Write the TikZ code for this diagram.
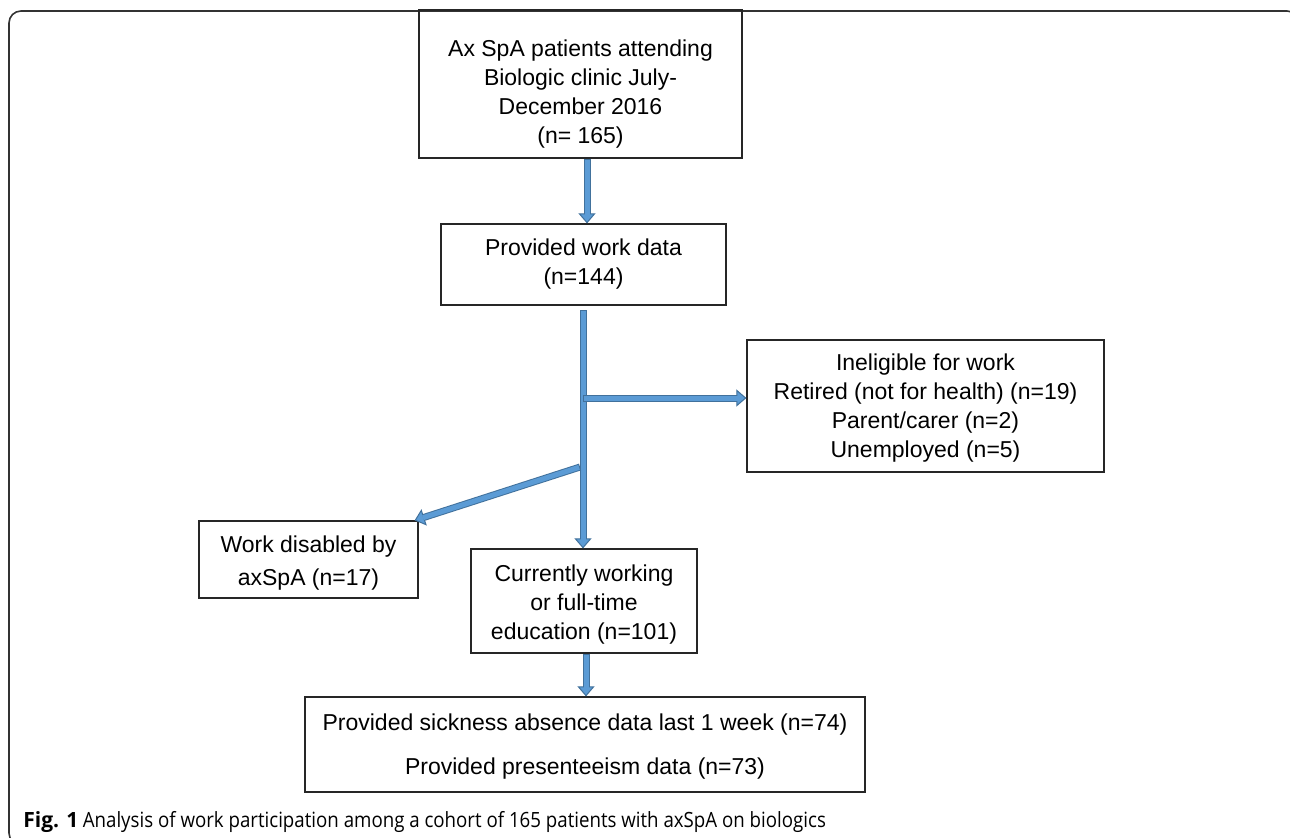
\documentclass[tikz,border=0pt]{standalone}
\usepackage{fontspec}
\setmainfont{Liberation Sans}
\newfontfamily\capfont{Open Sans}
\usetikzlibrary{arrows.meta}
\definecolor{arrfill}{HTML}{5B9BD5}
\definecolor{arredge}{HTML}{41719C}
\tikzset{
  box/.style={draw=black!85, line width=0.6pt, inner sep=0pt},
  boxtext/.style={inner sep=0pt, align=center, font=\fontsize{11.5}{14.5}\selectfont},
  edgeline/.style={draw=arredge, line width=3.5pt,
    -{Triangle[length=5pt, width=8.5pt, line width=0.5pt, fill=arrfill]}},
  innerline/.style={draw=arrfill, line width=2.5pt, shorten >=4.4pt, shorten <=0.5pt},
}
\newcommand\flowarrow[2]{\draw[edgeline] #1 -- #2; \draw[innerline] #1 -- #2;}
\begin{document}
\begin{tikzpicture}[x=0.5pt, y=-0.5pt]
\useasboundingbox (0,0) rectangle (1290,837);
\begin{scope}
\clip (0,0) rectangle (1290,837);
\draw[black!80, line width=0.8pt, rounded corners=6pt] (9,11) rectangle (1299,845);
\end{scope}

\node[box, minimum width=161.5pt, minimum height=74pt] (top) at (580.5,84) {};
\node[boxtext] (topt) at ([yshift=-5pt]top.center)
  {Ax SpA patients attending\\Biologic clinic July-\\December 2016\\(n= 165)};
\node[box, minimum width=142.5pt, minimum height=40.5pt] (work) at (583.5,264.5) {};
\node[boxtext] (workt) at (work.center) {Provided work data\\(n=144)};
\node[box, minimum width=178.5pt, minimum height=66pt] (inel) at (925.5,406) {};
\node[boxtext] (inelt) at ([yshift=-0.8pt]inel.center)
  {Ineligible for work\\Retired (not for health) (n=19)\\Parent/carer (n=2)\\Unemployed (n=5)};
\node[box, minimum width=109.5pt, minimum height=38.5pt] (dis) at (308.5,559.5) {};
\node[boxtext] (dist) at ([yshift=-2pt]dis.center) {Work disabled by\\[2pt]axSpA (n=17)};
\node[box, minimum width=113pt, minimum height=52pt] (cur) at (584,601) {};
\node[boxtext] (curt) at ([yshift=-2pt]cur.center) {Currently working\\or full-time\\education (n=101)};
\node[box, minimum width=280pt, minimum height=47.5pt] (bot) at (585,744.5) {};
\node[boxtext] (bott) at ([yshift=-0.8pt]bot.center)
  {Provided sickness absence data last 1 week (n=74)\\[7.5pt]Provided presenteeism data (n=73)};

\coordinate (a1) at (587,0);
\coordinate (b0) at (583,310);
\coordinate (b1) at (583,398);
\coordinate (b2) at (580,467);
\coordinate (a2) at (586,0);

\flowarrow{(a1 |- top.south)}{(a1 |- work.north)}
\flowarrow{(b0)}{(b0 |- cur.north)}
\flowarrow{(b1)}{(b1 -| inel.west)}
\flowarrow{(b2)}{([xshift=-2pt]dis.north east)}
\flowarrow{(a2 |- cur.south)}{(a2 |- bot.north)}

\node[anchor=base west, inner sep=0pt] (cap) at (23,827)
  {\capfont\fontsize{10.5}{12}\selectfont\textbf{Fig. 1}\hspace{2.2pt}\resizebox{371.5pt}{\height}{Analysis of work participation among a cohort of 165 patients with axSpA on biologics}};
\end{tikzpicture}
\end{document}
